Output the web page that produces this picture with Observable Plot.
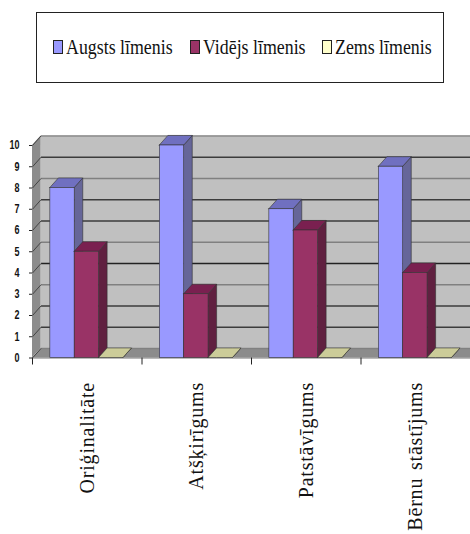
<!DOCTYPE html>
<html><head><meta charset="utf-8">
<script src="https://cdn.jsdelivr.net/npm/d3@7"></script>
<script src="https://cdn.jsdelivr.net/npm/@observablehq/plot@0.6"></script>
<style>
html,body{margin:0;padding:0;background:#fff;overflow:hidden}
#legend{box-sizing:border-box;position:absolute;left:36px;top:12px;width:408px;height:71px;border:1px solid #222;font-family:"Liberation Serif",serif;font-size:21px;color:#111;white-space:nowrap}
#legend .s{position:absolute;top:27px;box-sizing:border-box;width:10px;height:14px;border:1.5px solid #222}
#legend .t{position:absolute;top:22px;transform:scaleX(.85);transform-origin:left center}
#chart{position:absolute;left:0;top:125px}
.catLabels text{letter-spacing:.8px;word-spacing:2px}
</style></head><body>
<div id="legend"></div><div id="chart"></div>
<script>
const categories = ["Oriģinalitāte","Atšķirīgums","Patstāvīgums","Bērnu stāstījums"];
const augsts = [8,10,7,9];
const videjs = [5,3,6,4];
const zems = [0,0,0,0];
const seriesNames = ["Augsts līmenis","Vidējs līmenis","Zems līmenis"];
const seriesValues = [augsts,videjs,zems];
const frontColors = ["#9999ff","#993366","#ffffcc"];
const sideColors = ["#666699","#602040","#99997a"];
const topColors = ["#7070c0","#7a2050","#cccc99"];
const yTicks = d3.range(0,11);
const gridShades = ["#808080","#3c3c3c","#3c3c3c","#808080","#222222","#808080","#3c3c3c","#3c3c3c","#808080","#3c3c3c","#8c8c8c"];
const depthX = 0.078, depthY = 0.45, barStart = 0.163, barW = 0.2225;

const legendLeft = [16,153,285];
const legend = d3.select("#legend");
seriesNames.forEach((d,i)=>{
  legend.append("span").attr("class","s").style("left",legendLeft[i]+"px").style("background",frontColors[i]);
  legend.append("span").attr("class","t").style("left",(legendLeft[i]+13)+"px").text(d);
});

function sideFaces(vals,si){
  return vals.flatMap((v,g)=>{
    const x = g+barStart+si*barW+barW;
    return [{id:g,x,y1:0,y2:v},{id:g,x:x+depthX,y1:depthY,y2:v+depthY}];
  });
}
function topFaces(vals,si){
  return vals.flatMap((v,g)=>{
    const l = g+barStart+si*barW, r = l+barW;
    return [{id:g,x:l,y1:v,y2:v},{id:g,x:l+depthX,y1:v,y2:v+depthY},{id:g,x:r,y1:v,y2:v+depthY},{id:g,x:r+depthX,y1:v+depthY,y2:v+depthY}];
  });
}
function fronts(vals,si){
  return vals.map((v,g)=>({x1:g+barStart+si*barW,x2:g+barStart+si*barW+barW,y1:0,y2:v}));
}
const areaOpts = {x1:"x",y1:"y1",y2:"y2"};
const barMarks = seriesValues.flatMap((vals,si)=>[
  Plot.area(sideFaces(vals,si),{...areaOpts,z:"id",fill:sideColors[si],stroke:"#333",strokeWidth:0.6}),
  Plot.area(topFaces(vals,si),{...areaOpts,z:"id",fill:topColors[si],stroke:"#333",strokeWidth:0.6}),
  Plot.rect(fronts(vals,si),{x1:"x1",x2:"x2",y1:"y1",y2:"y2",fill:frontColors[si],stroke:"#333",strokeWidth:0.6})
]);

const wallBack = [{x1:depthX,x2:4,y1:depthY,y2:10+depthY}];
const wallLeft = [{x:0,y1:0,y2:10},{x:depthX,y1:depthY,y2:10+depthY}];
const floor = [{x:0,y1:0,y2:0},{x:depthX,y1:0,y2:depthY},{x:4,y1:0,y2:depthY}];
const gridBack = yTicks.map(d=>({x1:depthX,x2:4,y1:d+depthY,y2:d+depthY,c:gridShades[d]}));
const gridLeft = yTicks.map(d=>({x1:0,x2:depthX,y1:d,y2:d+depthY}));
const linkOpts = {x1:"x1",x2:"x2",y1:"y1",y2:"y2"};

const plot = Plot.plot({
  width:470,height:409,
  marginLeft:32,marginRight:0,marginTop:20,marginBottom:176.5,
  x:{domain:[0,4],axis:null},
  y:{domain:[0,10],axis:null},
  style:{background:"transparent"},
  marks:[
    Plot.rect(wallBack,{...linkOpts,fill:"#c0c0c0"}),
    Plot.area(wallLeft,{...areaOpts,fill:"#8c8c8c"}),
    Plot.area(floor,{...areaOpts,fill:"#8c8c8c"}),
    Plot.link(gridBack,{...linkOpts,stroke:d=>d.c,strokeWidth:1.5}),
    Plot.link(gridLeft,{...linkOpts,stroke:"#444",strokeWidth:1}),
    Plot.ruleY([0],{stroke:"#777",strokeWidth:1}),
    ...barMarks,
    Plot.axisY({ticks:yTicks,tickSize:3,tickPadding:10,anchor:"left",fontFamily:"'Liberation Sans',sans-serif",fontWeight:"bold",fontSize:12,fill:"#111",stroke:"#222",label:null,className:"yLabels"}),
    Plot.axisX({ticks:[0,1,2,3,4],tickSize:7,tickFormat:()=>"",anchor:"bottom",stroke:"#222",label:null}),
    Plot.axisX({ticks:categories.map((c,i)=>i+0.5),tickSize:0,tickPadding:24,tickRotate:-90,tickFormat:t=>categories[Math.floor(t)],anchor:"bottom",fontFamily:"'Liberation Serif',serif",fontSize:20,fill:"#111",label:null,className:"catLabels"})
  ]
});
document.getElementById("chart").appendChild(plot);
d3.select(plot).selectAll(".yLabels text").each(function(){
  const n = this.textContent.length;
  this.setAttribute("textLength", n*5);
  this.setAttribute("lengthAdjust","spacingAndGlyphs");
});
</script></body></html>
